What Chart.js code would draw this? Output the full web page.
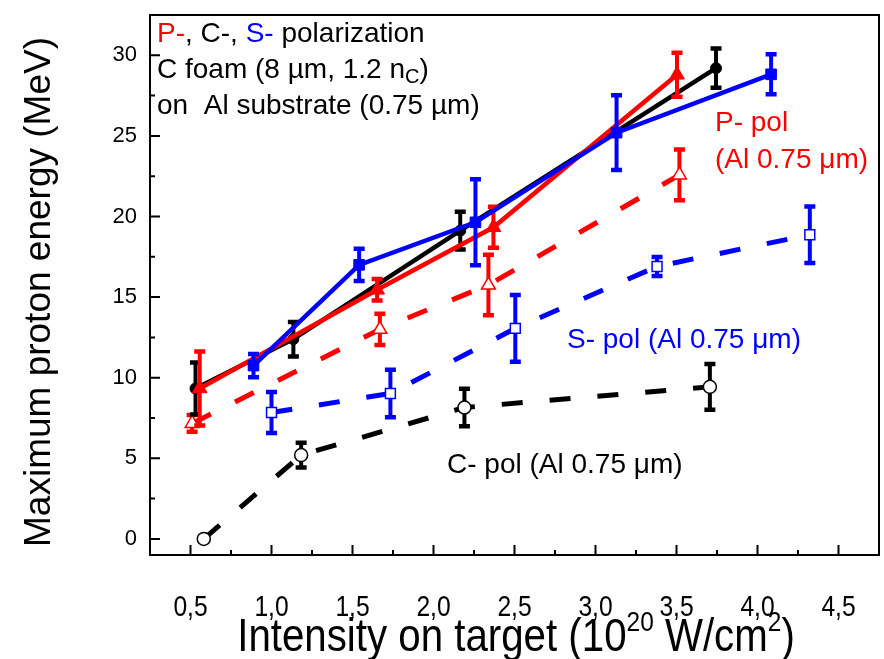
<!DOCTYPE html>
<html><head><meta charset="utf-8">
<script src="https://cdn.jsdelivr.net/npm/chart.js@4"></script>
<style>html,body{margin:0;padding:0;background:#fff}#wrap{width:884px;height:659px}</style>
</head><body><div id="wrap"><canvas id="c" width="884" height="659"></canvas></div>
<script>
// ---- tick labels ----
const xTicks = [0.5, 1.0, 1.5, 2.0, 2.5, 3.0, 3.5, 4.0, 4.5];
const xTickLabels = ['0,5','1,0','1,5','2,0','2,5','3,0','3,5','4,0','4,5'];
const xMinorTicks = [0.75, 1.25, 1.75, 2.25, 2.75, 3.25, 3.75, 4.25];
const yTicks = [0, 5, 10, 15, 20, 25, 30];
const yMinorTicks = [2.5, 7.5, 12.5, 17.5, 22.5, 27.5];

// ---- series (foam on Al substrate, solid) ----
const pSolidX = [0.557, 1.652, 2.37, 3.503];
const pSolidY = [9.33, 15.45, 19.33, 28.79];
const pSolidErr = [2.33, 0.7, 1.3, 1.4];

const cSolidX = [0.531, 1.135, 2.165, 3.744];
const cSolidY = [9.33, 12.39, 19.12, 29.2];
const cSolidErr = [1.65, 1.1, 1.2, 1.25];

const sSolidX = [0.889, 1.541, 2.259, 3.13, 4.084];
const sSolidY = [10.75, 17.0, 19.64, 25.2, 28.82];
const sSolidErr = [0.75, 1.03, 2.7, 2.35, 1.27];

// ---- series (Al 0.75 um only, dashed) ----
const pDashX = [0.51, 1.669, 2.339, 3.518];
const pDashY = [7.16, 13.0, 15.75, 22.58];
const pDashErr = [0.55, 1.0, 1.9, 1.6];

const sDashX = [1.0, 1.734, 2.505, 3.38, 4.323];
const sDashY = [7.84, 9.02, 13.06, 16.9, 18.87];
const sDashErr = [1.3, 1.5, 2.1, 0.62, 1.78];

const cDashX = [0.582, 1.183, 2.191, 3.706];
const cDashY = [0, 5.2, 8.15, 9.43];
const cDashErr = [0, 0.8, 1.2, 1.45];

const RED = '#ff0000', BLUE = '#0000ff', BLACK = '#000000';
const pts = (xs, ys) => xs.map((x, i) => ({x: x, y: ys[i]}));
const DASH = [21, 27];

function solid(label, xs, ys, err, color, style, r, order) {
  return {label, data: pts(xs, ys), err, showLine: true, borderColor: color, borderWidth: 4.5,
    pointStyle: style, pointRadius: r, pointBackgroundColor: color, pointBorderColor: color,
    pointBorderWidth: 1, order};
}
function dashed(label, xs, ys, err, color, style, r, order) {
  return {label, data: pts(xs, ys), err, showLine: true, borderColor: color, borderWidth: 5,
    borderDash: DASH, pointStyle: style, pointRadius: r, pointBackgroundColor: '#ffffff',
    pointBorderColor: color, pointBorderWidth: 1.5, order};
}

const datasets = [
  solid('S- pol', sSolidX, sSolidY, sSolidErr, BLUE, 'rect', 7.5, 1),
  solid('P- pol', pSolidX, pSolidY, pSolidErr, RED, 'triangle', 8.5, 2),
  solid('C- pol', cSolidX, cSolidY, cSolidErr, BLACK, 'circle', 5.5, 3),
  dashed('P- pol (Al 0.75 μm)', pDashX, pDashY, pDashErr, RED, 'triangle', 8, 4),
  dashed('S- pol (Al 0.75 μm)', sDashX, sDashY, sDashErr, BLUE, 'rect', 7, 5),
  dashed('C- pol (Al 0.75 μm)', cDashX, cDashY, cDashErr, BLACK, 'circle', 6.5, 6)
];

const errPlugin = {
  id: 'errbars',
  beforeDatasetDraw(chart, args) {
    const ds = chart.data.datasets[args.index];
    if (!ds.err) return;
    const ctx = chart.ctx, xs = chart.scales.x, ys = chart.scales.y;
    ctx.save();
    ctx.strokeStyle = ds.borderColor;
    ctx.setLineDash([]);
    ctx.lineCap = 'butt';
    ds.data.forEach((p, i) => {
      const e = ds.err[i];
      if (!e) return;
      const x = xs.getPixelForValue(p.x);
      const y1 = ys.getPixelForValue(p.y + e), y2 = ys.getPixelForValue(p.y - e);
      ctx.lineWidth = 4;
      ctx.beginPath(); ctx.moveTo(x, y1); ctx.lineTo(x, y2); ctx.stroke();
      ctx.lineWidth = 4.5;
      ctx.beginPath();
      ctx.moveTo(x - 5.5, y1 + 0.5); ctx.lineTo(x + 5.5, y1 + 0.5);
      ctx.moveTo(x - 5.5, y2 - 0.5); ctx.lineTo(x + 5.5, y2 - 0.5);
      ctx.stroke();
    });
    ctx.restore();
  }
};

const ARIAL = '"Liberation Sans", Arial, sans-serif';
const NARROW_SCALE = 0.82;

function runs(ctx, x, y, list, align, sx) {
  sx = sx || 1;
  let total = 0;
  list.forEach(r => { ctx.font = r.font; total += ctx.measureText(r.t).width; });
  ctx.save();
  ctx.translate(x, y);
  ctx.scale(sx, 1);
  let cx = align === 'center' ? -total / 2 : 0;
  list.forEach(r => {
    ctx.font = r.font; ctx.fillStyle = r.color || BLACK;
    ctx.fillText(r.t, cx, (r.dy || 0));
    cx += ctx.measureText(r.t).width;
  });
  ctx.restore();
}

const framePlugin = {
  id: 'frame',
  afterDraw(chart) {
    const ctx = chart.ctx, a = chart.chartArea, xs = chart.scales.x, ys = chart.scales.y;
    ctx.save();
    ctx.strokeStyle = BLACK; ctx.lineWidth = 2; ctx.setLineDash([]);
    ctx.strokeRect(a.left, a.top, a.right - a.left, a.bottom - a.top);
    ctx.beginPath();
    xTicks.forEach(v => { const x = xs.getPixelForValue(v); ctx.moveTo(x, a.bottom); ctx.lineTo(x, a.bottom - 10); });
    xMinorTicks.forEach(v => { const x = xs.getPixelForValue(v); ctx.moveTo(x, a.bottom); ctx.lineTo(x, a.bottom - 5); });
    yTicks.forEach(v => { const y = ys.getPixelForValue(v); ctx.moveTo(a.left, y); ctx.lineTo(a.left + 10, y); });
    yMinorTicks.forEach(v => { const y = ys.getPixelForValue(v); ctx.moveTo(a.left, y); ctx.lineTo(a.left + 5, y); });
    ctx.stroke();

    ctx.textBaseline = 'alphabetic'; ctx.textAlign = 'left';
    // x tick labels (narrow face), placed by the x scale
    xs.ticks.forEach((t, i) => {
      runs(ctx, xs.getPixelForValue(t.value), 616, [{t: xTickLabels[i], font: '30px ' + ARIAL}], 'center', NARROW_SCALE);
    });

    const F = '28px ' + ARIAL;
    runs(ctx, 157, 42, [{t: 'P-', font: F, color: RED}, {t: ', C-, ', font: F}, {t: 'S-', font: F, color: BLUE}, {t: ' polarization', font: F}]);
    runs(ctx, 157, 78, [{t: 'C foam (8 µm, 1.2 n', font: F}, {t: 'C', font: '20px ' + ARIAL, dy: 5}, {t: ')', font: F}]);
    runs(ctx, 157, 114, [{t: 'on  Al substrate (0.75 µm)', font: F}]);
    runs(ctx, 715, 131, [{t: 'P- pol', font: F, color: RED}]);
    runs(ctx, 715, 168, [{t: '(Al 0.75 μm)', font: F, color: RED}]);
    runs(ctx, 567, 348, [{t: 'S- pol (Al 0.75 μm)', font: F, color: BLUE}]);
    runs(ctx, 447, 473, [{t: 'C- pol (Al 0.75 μm)', font: F, color: BLACK}]);

    // axis titles
    const T = '46px ' + ARIAL, TS = '28px ' + ARIAL;
    runs(ctx, 516, 651, [{t: 'Intensity on target (10', font: T}, {t: '20', font: TS, dy: -20}, {t: ' W/cm', font: T}, {t: '2', font: TS, dy: -20}, {t: ')', font: T}], 'center', 0.875);
    ctx.save();
    ctx.translate(50, 292); ctx.rotate(-Math.PI / 2);
    ctx.font = '37px ' + ARIAL; ctx.fillStyle = BLACK; ctx.textAlign = 'center';
    ctx.fillText('Maximum proton energy (MeV)', 0, 0);
    ctx.restore();
    ctx.restore();
  }
};

new Chart(document.getElementById('c'), {
  type: 'scatter',
  data: {datasets},
  options: {
    responsive: false, animation: false,
    layout: {autoPadding: false, padding: {left: 0, right: 5, top: 15, bottom: 0}},
    plugins: {legend: {display: false}, tooltip: {enabled: false}},
    scales: {
      x: {
        type: 'linear', min: 0.25, max: 4.75,
        afterBuildTicks: s => { s.ticks = xTicks.map(v => ({value: v})); },
        ticks: {display: false, autoSkip: false},
        grid: {display: false, drawTicks: false, tickLength: 0},
        border: {display: false},
        afterFit: s => { s.height = 104; s.paddingLeft = 0; s.paddingRight = 0; }
      },
      y: {
        type: 'linear', min: -1, max: 32.5,
        afterBuildTicks: s => { s.ticks = yTicks.map(v => ({value: v})); },
        ticks: {font: {family: ARIAL, size: 22}, color: BLACK, padding: 13, autoSkip: false},
        grid: {display: false, drawTicks: false, tickLength: 0},
        border: {display: false},
        afterFit: s => { s.width = 150; s.paddingTop = 0; s.paddingBottom = 0; }
      }
    }
  },
  plugins: [errPlugin, framePlugin]
});
</script></body></html>
